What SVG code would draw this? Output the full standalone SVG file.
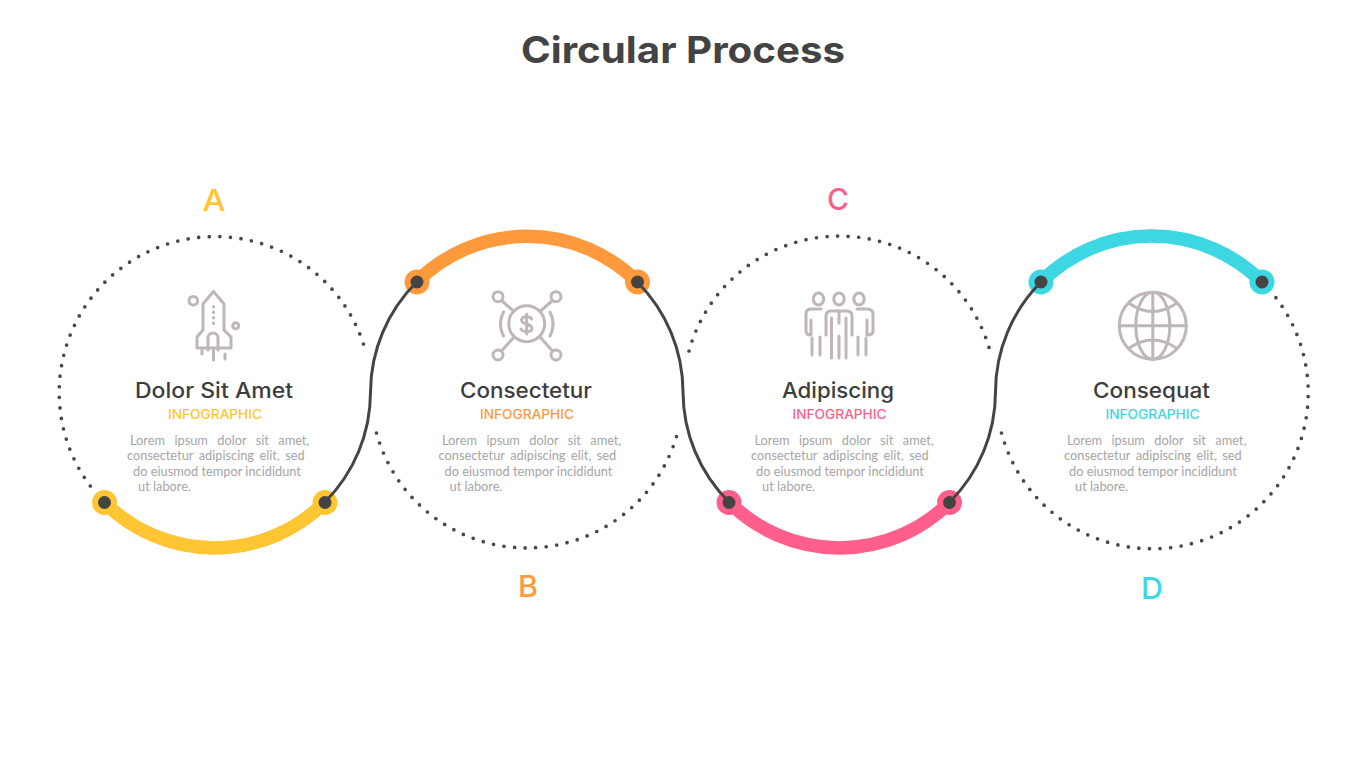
<svg xmlns="http://www.w3.org/2000/svg" width="1366" height="768" viewBox="0 0 1366 768">
<style>
text{font-family:"Inter","Liberation Sans",sans-serif}
.title{font-size:37px;font-weight:700;fill:#434343}
.letter{font-size:30px;font-weight:500;text-anchor:middle}
.head{font-size:21px;font-weight:500;fill:#3d3d3d;text-anchor:middle}
.sub{font-size:13px;font-weight:500;text-anchor:middle}
.body text{font-family:"Lato","Open Sans",sans-serif;font-size:12.8px;fill:#a5a5a5}
.l1{word-spacing:6.100px}
.l2{word-spacing:2.200px}
.dots{fill:none;stroke:#484848;stroke-width:3.700;stroke-linecap:round;stroke-dasharray:0 10.600}
.link{fill:none;stroke:#444;stroke-width:3}
.arc{fill:none;stroke-width:13.500}
.pin{fill:#444}
.icon{fill:none;stroke:#bfb6b6;stroke-width:3;stroke-linecap:round;stroke-linejoin:round}
.y{fill:#ffc533}.o{fill:#ff9a3c}.p{fill:#ff5f8a}.c{fill:#3dd6e3}
</style>
<text class="title" x="521" y="63" textLength="324" lengthAdjust="spacingAndGlyphs">Circular Process</text>

<g id="node-a">
<text class="letter y" x="214" y="211" textLength="23" lengthAdjust="spacingAndGlyphs">A</text>
<path class="dots" d="M90.300 486A156 156 0 1 1 365 349"/>
<path class="arc" stroke="#ffc533" d="M104 502A156 156 0 0 0 325 502"/>
<circle class="y" cx="104.500" cy="502.500" r="12.500"/><circle class="y" cx="325" cy="502.500" r="12.500"/>
<circle class="pin" cx="104.500" cy="502.500" r="6.500"/><circle class="pin" cx="325" cy="502.500" r="6.500"/>
<g class="icon">
<path d="M203 330V304L213.500 291.500L224 304V330L231 337V348H197V337Z"/>
<path d="M208 350V338A5 5 0 0 1 218 338V350"/>
<path d="M202 349V354M213.500 350V360M225 354V359M213.500 306.500V307M213.500 312V312.500M213.500 317.500V318M213.500 323V323.500"/>
<circle cx="193.300" cy="300.700" r="4.300"/><circle cx="235.700" cy="325.700" r="3"/>
</g>
<text class="head" x="214" y="398" textLength="158" lengthAdjust="spacingAndGlyphs">Dolor Sit Amet</text>
<text class="sub y" x="215" y="419" textLength="94" lengthAdjust="spacingAndGlyphs">INFOGRAPHIC</text>
<g class="body">
<text class="l1" x="130" y="444.500">Lorem ipsum dolor sit amet,</text>
<text class="l2" x="127" y="460">consectetur adipiscing elit, sed</text>
<text x="133" y="475.500">do eiusmod tempor incididunt</text>
<text x="138" y="490.500">ut labore.</text>
</g>
</g>

<g id="node-b">
<text class="letter o" x="528" y="597" textLength="20" lengthAdjust="spacingAndGlyphs">B</text>
<path class="dots" d="M376.500 433A156 156 0 0 0 677.500 433"/>
<path class="arc" stroke="#ff9a3c" d="M416.700 282A156 156 0 0 1 637.300 282"/>
<circle class="o" cx="417" cy="282" r="12.500"/><circle class="o" cx="637.500" cy="282" r="12.500"/>
<circle class="pin" cx="417" cy="282" r="6.500"/><circle class="pin" cx="637.500" cy="282" r="6.500"/>
<g class="icon">
<circle cx="526.700" cy="323.700" r="18"/>
<path d="M503.500 312A26 26 0 0 0 503.500 336M550 312A26 26 0 0 1 550 336"/>
<circle cx="498" cy="296.700" r="5"/><circle cx="556" cy="296.700" r="5"/><circle cx="498" cy="355" r="5"/><circle cx="556" cy="355" r="5"/>
<path d="M501.500 300.500L514 311.500M552.500 300.500L540 311.500M501.500 351L514 337M552.500 351L540 337"/>
<path d="M531.500 319C530.500 316 522 315.500 521.500 320C521 325 532 323 532 328.500C532 332.500 522.500 332.500 521 329M526.700 314V334"/>
</g>
<text class="head" x="526" y="398" textLength="132" lengthAdjust="spacingAndGlyphs">Consectetur</text>
<text class="sub o" x="527" y="419" textLength="94" lengthAdjust="spacingAndGlyphs">INFOGRAPHIC</text>
<g class="body">
<text class="l1" x="442" y="444.500">Lorem ipsum dolor sit amet,</text>
<text class="l2" x="438.500" y="460">consectetur adipiscing elit, sed</text>
<text x="444.500" y="475.500">do eiusmod tempor incididunt</text>
<text x="449.500" y="490.500">ut labore.</text>
</g>
</g>

<g id="node-c">
<text class="letter p" x="838" y="210" textLength="22" lengthAdjust="spacingAndGlyphs">C</text>
<path class="dots" d="M689 351A156 156 0 0 1 990 351"/>
<path class="arc" stroke="#ff5f8a" d="M729 502A156 156 0 0 0 950 502"/>
<circle class="p" cx="729" cy="502.500" r="12.500"/><circle class="p" cx="949.500" cy="502.500" r="12.500"/>
<circle class="pin" cx="729" cy="502.500" r="6.500"/><circle class="pin" cx="949.500" cy="502.500" r="6.500"/>
<g class="icon">
<ellipse cx="818.500" cy="299" rx="5.200" ry="6"/><ellipse cx="839" cy="299" rx="5.200" ry="6"/><ellipse cx="859" cy="299" rx="5.200" ry="6"/>
<path d="M826 335V316Q826 311 831 311H847Q852 311 852 316V335"/>
<path d="M831.500 318V358M846 318V358M839 336V358M839 311V323"/>
<path d="M821 309H811Q806 309 806 314V331Q806 335 811 335V320"/>
<path d="M857 309H867Q873 309 873 314V331Q873 335 867 335V320"/>
<path d="M812 338V355M820 337V355M858 337V355M866 338V355"/>
</g>
<text class="head" x="838" y="398" textLength="112" lengthAdjust="spacingAndGlyphs">Adipiscing</text>
<text class="sub p" x="839.500" y="419" textLength="94" lengthAdjust="spacingAndGlyphs">INFOGRAPHIC</text>
<g class="body">
<text class="l1" x="754.500" y="444.500">Lorem ipsum dolor sit amet,</text>
<text class="l2" x="751" y="460">consectetur adipiscing elit, sed</text>
<text x="756" y="475.500">do eiusmod tempor incididunt</text>
<text x="762" y="490.500">ut labore.</text>
</g>
</g>

<g id="node-d">
<text class="letter c" x="1152" y="599" textLength="22" lengthAdjust="spacingAndGlyphs">D</text>
<path class="dots" d="M1001.500 433A156 156 0 1 0 1275 296.500"/>
<path class="arc" stroke="#3dd6e3" d="M1041 282A156 156 0 0 1 1262 282"/>
<circle class="c" cx="1041" cy="282" r="12.500"/><circle class="c" cx="1262" cy="282" r="12.500"/>
<circle class="pin" cx="1041" cy="282" r="6.500"/><circle class="pin" cx="1262" cy="282" r="6.500"/>
<g class="icon">
<circle cx="1152.800" cy="325.800" r="33.500"/>
<ellipse cx="1152.800" cy="325.800" rx="17" ry="33.500"/>
<path d="M1152.800 292.300V359.300M1119.300 325.800H1186.300M1128.500 303Q1152.800 320 1177 303M1128.500 348.500Q1152.800 331.500 1177 348.500"/>
</g>
<text class="head" x="1151.500" y="398" textLength="117" lengthAdjust="spacingAndGlyphs">Consequat</text>
<text class="sub c" x="1152.500" y="419" textLength="94" lengthAdjust="spacingAndGlyphs">INFOGRAPHIC</text>
<g class="body">
<text class="l1" x="1067" y="444.500">Lorem ipsum dolor sit amet,</text>
<text class="l2" x="1064" y="460">consectetur adipiscing elit, sed</text>
<text x="1069" y="475.500">do eiusmod tempor incididunt</text>
<text x="1075" y="490.500">ut labore.</text>
</g>
</g>

<g id="connectors">
<path class="link" d="M325 502A156 156 0 0 0 370.500 392A156 156 0 0 1 416.700 282"/>
<path class="link" d="M637.300 282A156 156 0 0 1 683 392A156 156 0 0 0 729 502"/>
<path class="link" d="M949.800 502A156 156 0 0 0 995.500 392A156 156 0 0 1 1041 282"/>
</g>
</svg>
